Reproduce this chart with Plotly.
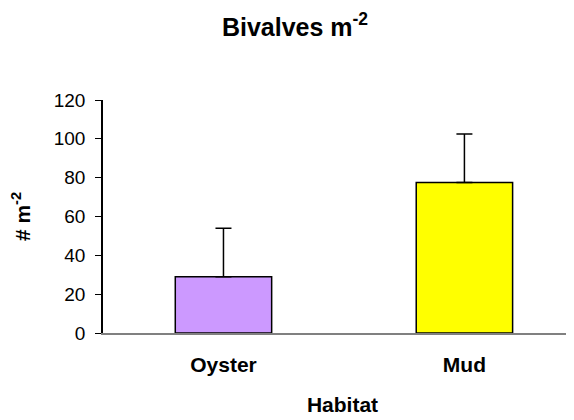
import plotly.graph_objects as go

habitats = ["Oyster", "Mud"]
means = [29, 77.5]
errors = [25, 25]
colors = ["#cc99ff", "#ffff00"]
yticks = [0, 20, 40, 60, 80, 100, 120]

FONT = "Arial, Liberation Sans, sans-serif"

fig = go.Figure()
fig.add_trace(go.Bar(
    x=[0, 1], y=means, width=0.4,
    marker=dict(color=colors, line=dict(color="black", width=1.5)),
    error_y=dict(type="data", array=errors, arrayminus=[0, 0], symmetric=False,
                 color="black", thickness=1.5, width=8),
))
fig.update_layout(
    width=574, height=420,
    margin=dict(l=95, r=0, t=92, b=95),
    paper_bgcolor="white", plot_bgcolor="white",
    showlegend=False,
    font=dict(family=FONT, color="black"),
    title=dict(text="<b>Bivalves m<sup>-2</sup></b>", x=0.5, xanchor="center",
               y=1 - 19 / 420, yanchor="middle", font=dict(size=25)),
)
fig.update_xaxes(
    range=[-0.5, 1.488], showline=True, linecolor="#808080", linewidth=1.5,
    ticks="", tickfont=dict(size=21, family=FONT),
    tickvals=[0, 1], ticktext=["<b>" + h + "</b>" for h in habitats],
    ticklabelstandoff=12,
    title=dict(text="<b>Habitat</b>", font=dict(size=21), standoff=22),
    showgrid=False, zeroline=False,
)
fig.update_yaxes(
    range=[0, 120], tickvals=yticks, showline=True, linecolor="black", linewidth=1.5,
    ticks="outside", ticklen=6, tickcolor="black", tickwidth=1,
    tickfont=dict(size=19), ticklabelstandoff=6, showgrid=False, zeroline=False,
    title=dict(text="<b># m<sup>-2</sup></b>", font=dict(size=21), standoff=18),
)
fig.write_html("out.html")
